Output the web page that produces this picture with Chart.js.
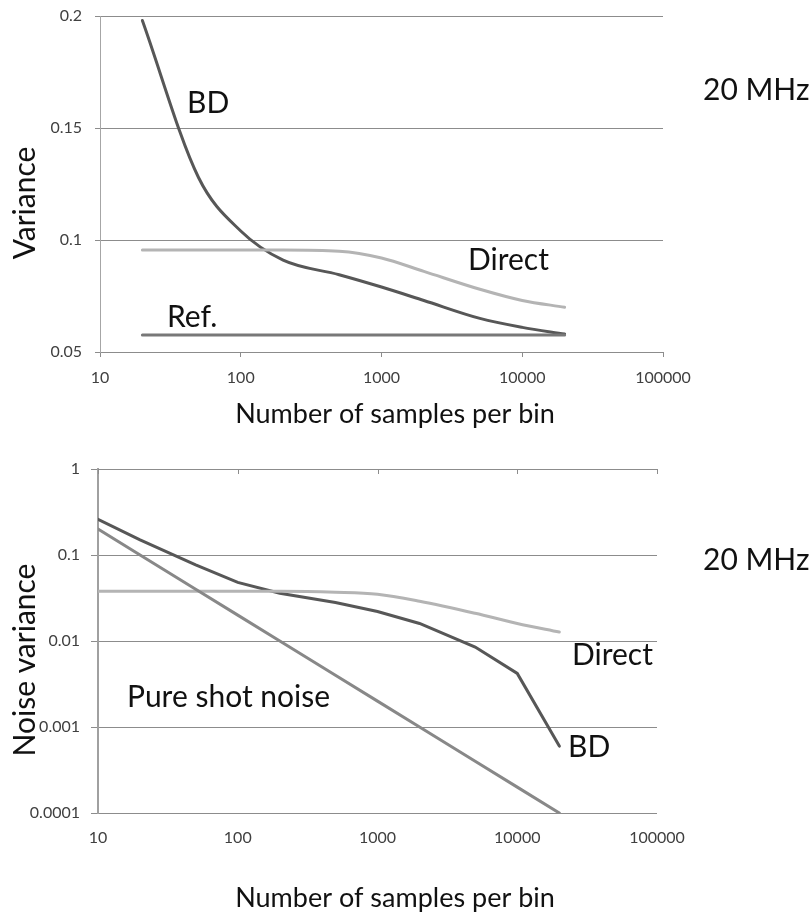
<!DOCTYPE html>
<html>
<head>
<meta charset="utf-8">
<script src="https://cdn.jsdelivr.net/npm/chart.js@4"></script>
<style>
  body { margin: 0; background: #fff; }
  canvas { position: absolute; left: 0; }
  #varChart { top: 0; }
  #noiseChart { top: 440px; }
</style>
</head>
<body>
<canvas id="varChart" width="812" height="440"></canvas>
<canvas id="noiseChart" width="812" height="477"></canvas>
<script>
// upper panel: variance vs samples per bin
const samplesTop = [20, 50, 100, 200, 500, 1000, 2000, 5000, 10000, 20000];
const bdVariance = [0.198, 0.128, 0.104, 0.091, 0.0845, 0.079, 0.073, 0.065, 0.061, 0.058];
const directVariance = [0.0955, 0.0955, 0.0955, 0.0955, 0.095, 0.092, 0.086, 0.078, 0.073, 0.070];
const refVariance = [0.0576, 0.0576, 0.0576, 0.0576, 0.0576, 0.0576, 0.0576, 0.0576, 0.0576, 0.0576];

// lower panel: noise variance vs samples per bin
const samplesBottom = [10, 20, 50, 100, 200, 500, 1000, 2000, 5000, 10000, 20000];
const bdNoise = [0.26, 0.15, 0.077, 0.048, 0.036, 0.028, 0.022, 0.016, 0.0085, 0.0042, 0.0006];
const directNoise = [0.038, 0.038, 0.038, 0.038, 0.038, 0.037, 0.035, 0.029, 0.021, 0.016, 0.0127];
const shotNoise = [0.2, 0.1, 0.04, 0.02, 0.01, 0.004, 0.002, 0.001, 0.0004, 0.0002, 0.0001];

const xTickLabels = ["10", "100", "1000", "10000", "100000"];
const varTickLabels = ["0.05", "0.1", "0.15", "0.2"];
const noiseTickLabels = ["0.0001", "0.001", "0.01", "0.1", "1"];

const FONT = "Lato, 'Open Sans', sans-serif";
const GRID = "#8c8c8c";
const TICK_SIZE = 16;

function toPoints(xs, ys) {
  return xs.map((x, i) => ({ x: x, y: ys[i] }));
}

function fixedTicks(labels) {
  return (scale) => {
    scale.ticks = labels.map((l) => ({ value: Number(l) }));
  };
}

// fixed axis box size, no extra room reserved for edge labels
function fixWidth(w) {
  return (s) => {
    s.width = w;
    s.paddingTop = 0;
    s.paddingBottom = 0;
  };
}

// free text drawn on top of the chart (curve names, axis titles)
function textPlugin(items) {
  return {
    id: "texts",
    afterDraw(chart) {
      const ctx = chart.ctx;
      ctx.save();
      ctx.fillStyle = "#111";
      items.forEach((t) => {
        ctx.save();
        ctx.font = t.size + "px " + FONT;
        ctx.textBaseline = "alphabetic";
        ctx.textAlign = t.align || "left";
        ctx.translate(t.x, t.y);
        if (t.rotate) ctx.rotate(-Math.PI / 2);
        ctx.fillText(t.text, 0, 0);
        ctx.restore();
      });
      ctx.restore();
    },
  };
}

// small tick marks hanging from the top edge of the lower panel
const topTicks = {
  id: "topTicks",
  afterDraw(chart) {
    const ctx = chart.ctx;
    const top = chart.chartArea.top;
    const xs = chart.scales.x;
    ctx.save();
    ctx.strokeStyle = GRID;
    ctx.lineWidth = 1;
    xTickLabels.forEach((l) => {
      const px = Math.round(xs.getPixelForValue(Number(l))) + 0.5;
      ctx.beginPath();
      ctx.moveTo(px, top);
      ctx.lineTo(px, top + 5);
      ctx.stroke();
    });
    ctx.restore();
  },
};

function line(data, color, tension) {
  return {
    data: data,
    borderColor: color,
    borderWidth: 3,
    borderCapStyle: "round",
    pointRadius: 0,
    fill: false,
    tension: tension,
    cubicInterpolationMode: tension ? "monotone" : "default",
  };
}

function xAxis(height, padding) {
  return {
    type: "logarithmic",
    min: 10,
    max: 100000,
    afterBuildTicks: fixedTicks(xTickLabels),
    afterFit: (s) => { s.height = height; },
    grid: { drawOnChartArea: false, drawTicks: true, tickLength: 5, color: GRID },
    border: { display: false },
    ticks: {
      padding: padding,
      autoSkip: false,
      maxRotation: 0,
      color: "#404040",
      font: { family: FONT, size: TICK_SIZE },
      callback: (v, i) => xTickLabels[i],
    },
  };
}

new Chart(document.getElementById("varChart"), {
  type: "line",
  data: {
    datasets: [
      line(toPoints(samplesTop, refVariance), "#787878", 0),
      line(toPoints(samplesTop, directVariance), "#b4b4b4", 0.4),
      line(toPoints(samplesTop, bdVariance), "#575757", 0.4),
    ],
  },
  options: {
    responsive: false,
    animation: false,
    layout: { padding: { left: 0, right: 149, top: 16, bottom: 0 } },
    plugins: { legend: { display: false }, tooltip: { enabled: false } },
    scales: {
      x: xAxis(88, 11),
      y: {
        min: 0.05,
        max: 0.2,
        afterBuildTicks: fixedTicks(varTickLabels),
        afterFit: fixWidth(100),
        grid: { color: GRID, tickLength: 5 },
        border: { color: "#a6a6a6" },
        ticks: {
          padding: 13,
          color: "#404040",
          font: { family: FONT, size: TICK_SIZE },
          callback: (v, i) => varTickLabels[i],
        },
      },
    },
  },
  plugins: [
    textPlugin([
      { text: "BD", x: 187, y: 113, size: 30 },
      { text: "Direct", x: 468, y: 270, size: 30 },
      { text: "Ref.", x: 167, y: 327, size: 30 },
      { text: "20 MHz", x: 703, y: 100, size: 30 },
      { text: "Number of samples per bin", x: 395, y: 423, size: 27, align: "center" },
      { text: "Variance", x: 35, y: 203, size: 30, align: "center", rotate: true },
    ]),
  ],
});

new Chart(document.getElementById("noiseChart"), {
  type: "line",
  data: {
    datasets: [
      line(toPoints(samplesBottom, shotNoise), "#888888", 0),
      line(toPoints(samplesBottom, directNoise), "#b4b4b4", 0.4),
      line(toPoints(samplesBottom, bdNoise), "#575757", 0),
    ],
  },
  options: {
    responsive: false,
    animation: false,
    layout: { padding: { left: 0, right: 155, top: 29, bottom: 0 } },
    plugins: { legend: { display: false }, tooltip: { enabled: false } },
    scales: {
      x: Object.assign(xAxis(104, 15), {
        grid: { drawOnChartArea: false, drawTicks: false, color: GRID },
      }),
      y: {
        type: "logarithmic",
        min: 0.0001,
        max: 1,
        afterBuildTicks: fixedTicks(noiseTickLabels),
        afterFit: fixWidth(98),
        grid: { color: GRID, tickLength: 7 },
        border: { color: "#a0a0a0", width: 2 },
        ticks: {
          padding: 11,
          color: "#404040",
          font: { family: FONT, size: TICK_SIZE },
          callback: (v, i) => noiseTickLabels[i],
        },
      },
    },
  },
  plugins: [
    topTicks,
    textPlugin([
      { text: "20 MHz", x: 703, y: 130, size: 30 },
      { text: "Direct", x: 572, y: 225, size: 30 },
      { text: "BD", x: 568, y: 317, size: 30 },
      { text: "Pure shot noise", x: 127, y: 267, size: 30 },
      { text: "Number of samples per bin", x: 395, y: 467, size: 27, align: "center" },
      { text: "Noise variance", x: 35, y: 220, size: 30, align: "center", rotate: true },
    ]),
  ],
});
</script>
</body>
</html>
